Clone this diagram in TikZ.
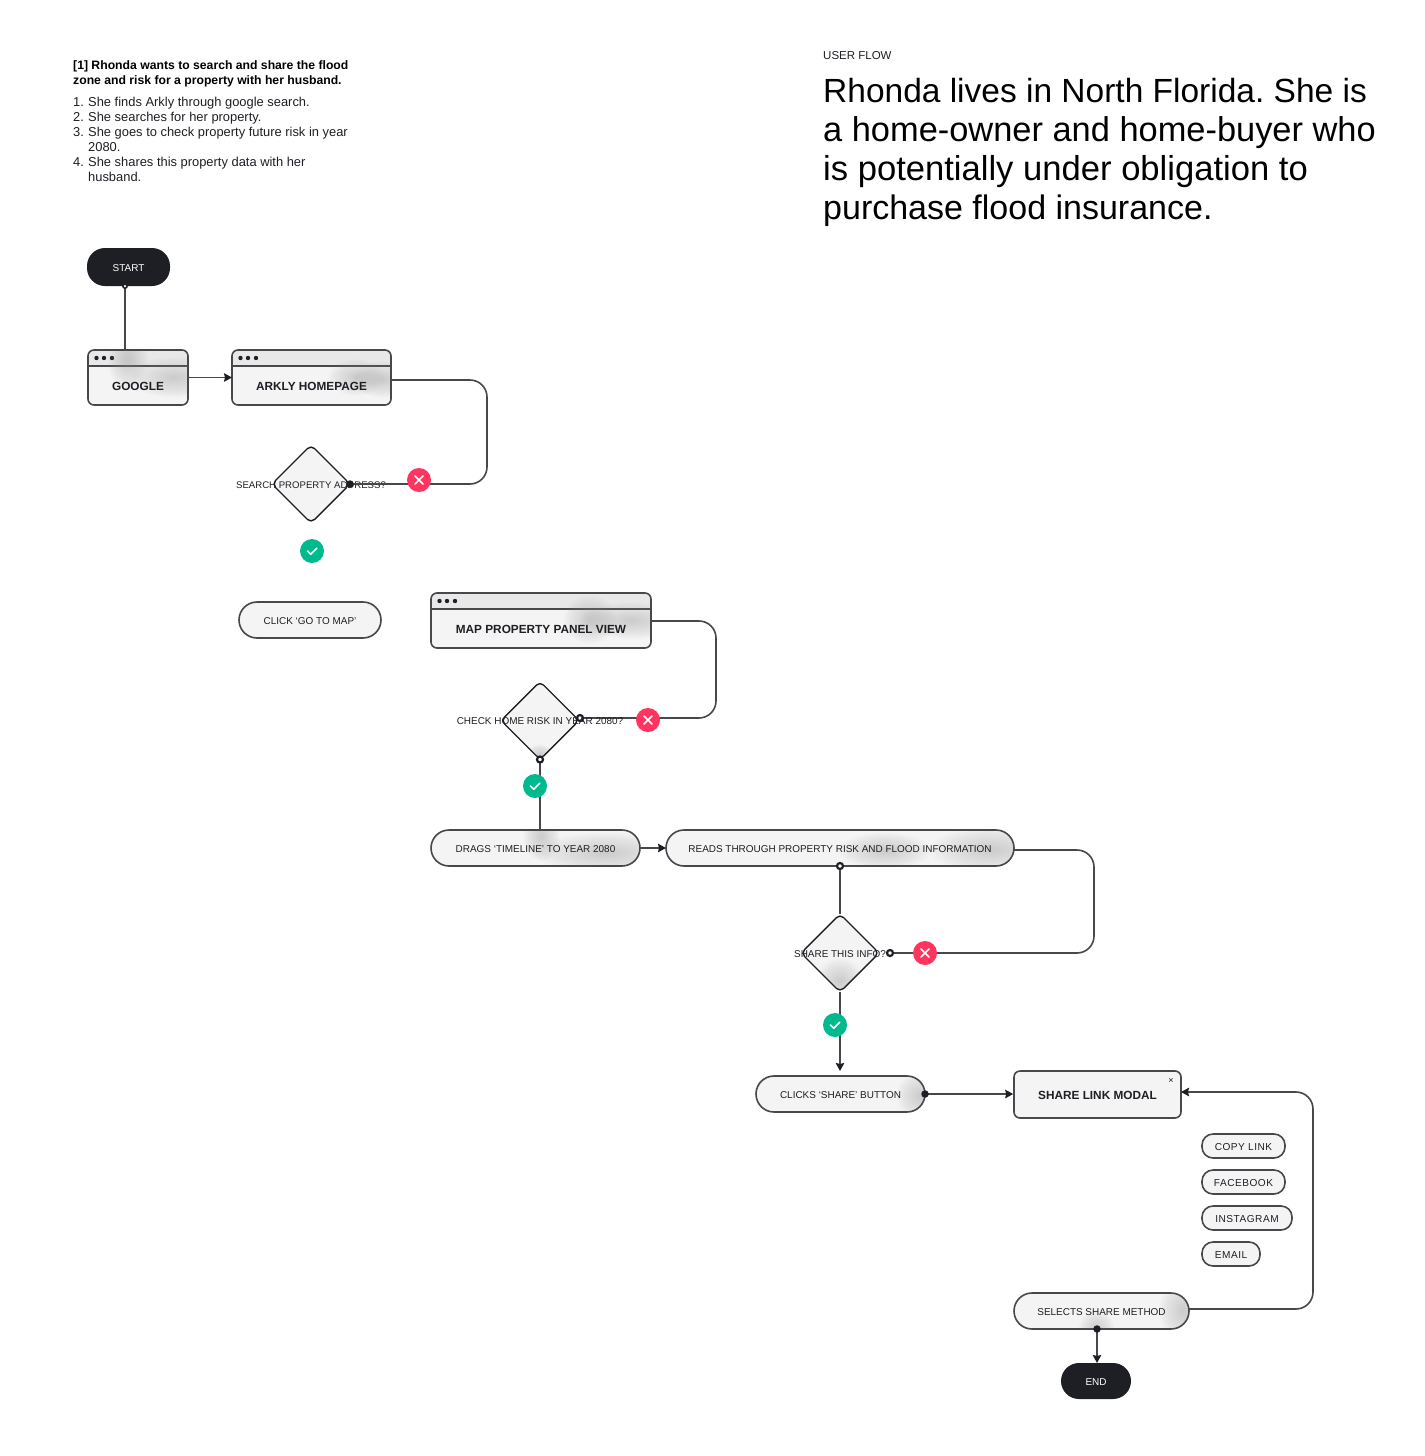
\documentclass[tikz,border=0pt]{standalone}
\usepackage{fontspec}
\setmainfont{Liberation Sans}
\usetikzlibrary{arrows.meta,shapes.geometric}
\definecolor{linegray}{HTML}{47474C}
\definecolor{inkdark}{HTML}{1E1F24}
\definecolor{boxfill}{HTML}{F4F4F4}
\definecolor{headfill}{HTML}{E8E8E8}
\definecolor{smudgegray}{HTML}{9A9A9A}
\definecolor{nored}{HTML}{FF3560}
\definecolor{yesgreen}{HTML}{00B98D}
\newcommand{\smudge}[4]{\foreach \blobk in {1,...,12}{\fill[smudgegray,opacity=0.04] ([shift={(#1pt,-#2pt)}]path picture bounding box.center) ellipse ({#3*\blobk/12} and {#4*\blobk/12});}}
\newcommand{\listnum}[1]{\makebox[15pt][l]{#1}}
\newcommand{\sized}[1]{\fontsize{#1}{39}\selectfont}
\tikzset{
  flowline/.style={draw=linegray,line width=1.6pt},
  arrowline/.style={flowline,-{Stealth[length=8pt,width=8.5pt,inset=1pt,color=inkdark]}},
  roundline/.style={flowline,rounded corners=17pt},
  smalltext/.style={font=\fontsize{9.95}{12}\selectfont,text=inkdark,inner sep=0pt,text height=9.2pt,text depth=0pt},
  boldtext/.style={font=\fontsize{11.8}{14}\selectfont\bfseries,text=inkdark,inner sep=0pt,text height=10.4pt,text depth=0pt},
  terminal/.style={rectangle,rounded corners=18pt,fill=inkdark,text=white,font=\fontsize{9.95}{12}\selectfont,inner sep=0pt,outer sep=0pt,text height=9.2pt,text depth=0pt},
  pill/.style={rectangle,rounded corners=18pt,draw=linegray,line width=1.6pt,fill=boxfill,smalltext,outer sep=0pt},
  chip/.style={rectangle,rounded corners=11pt,draw=linegray,line width=1.6pt,fill=boxfill,outer sep=0pt,inner sep=0pt,minimum height=24pt,
    font=\fontsize{10.1}{12}\selectfont\addfontfeature{LetterSpace=5},text=inkdark,text height=9.2pt,text depth=0pt},
  browser/.style={rectangle,rounded corners=6pt,draw=linegray,line width=1.6pt,fill=boxfill,outer sep=0pt,inner sep=0pt,minimum height=55pt,
    path picture={
      \fill[headfill] (path picture bounding box.north west) rectangle ([yshift=-16pt]path picture bounding box.north east);
      \draw[linegray,line width=1.6pt] ([yshift=-16pt]path picture bounding box.north west) -- ([yshift=-16pt]path picture bounding box.north east);
      \foreach \dotx in {8.5,16,24}{\fill[inkdark] ([shift={(\dotx pt,-8pt)}]path picture bounding box.north west) circle (2.2pt);}
      #1
    }},
  decision/.style={diamond,rounded corners=5pt,draw=inkdark,line width=1.4pt,fill=boxfill,minimum width=78pt,minimum height=78pt,inner sep=0pt,outer sep=0pt},
  port/.style={circle,draw=inkdark,line width=2.2pt,fill=white,minimum size=6pt,inner sep=0pt},
  solidport/.style={circle,fill=inkdark,minimum size=7.5pt,inner sep=0pt},
  nobadge/.style={circle,fill=nored,minimum size=24pt,inner sep=0pt,
    path picture={\draw[white,line width=1.6pt,line cap=round] ([shift={(-4pt,-4pt)}]path picture bounding box.center) -- ++(8pt,8pt) ([shift={(-4pt,4pt)}]path picture bounding box.center) -- ++(8pt,-8pt);}},
  yesbadge/.style={circle,fill=yesgreen,minimum size=24pt,inner sep=0pt,
    path picture={\draw[white,line width=1.6pt,line cap=round,line join=round] ([shift={(-4.5pt,0pt)}]path picture bounding box.center) -- ++(3.2pt,-3.2pt) -- ++(6pt,6pt);}},
}
\begin{document}
\frenchspacing
\begin{tikzpicture}[x=1pt,y=-1pt]
\useasboundingbox (0,0) rectangle (1424,1456);
% intro texts
\node[anchor=north west,inner sep=0pt,align=left,text=black,font=\fontsize{12.2}{15}\selectfont\bfseries] (brieftitle) at (73,60){[1] Rhonda wants to search and share the flood\\zone and risk for a property with her husband.};
\node[anchor=north west,inner sep=0pt,align=left,text=inkdark,font=\fontsize{12.9}{15}\selectfont] (brieflist) at (73,97){\listnum{1.}She finds Arkly through google search.\\\listnum{2.}She searches for her property.\\\listnum{3.}She goes to check property future risk in year\\\listnum{}2080.\\\listnum{4.}She shares this property data with her\\\listnum{}husband.};
\node[anchor=west,inner sep=0pt,text=inkdark,font=\fontsize{11.5}{14}\selectfont] (flowtag) at (823,55.5){USER FLOW};
\node[anchor=north west,inner sep=0pt,align=left,text=black,font=\sized{34.4}] (persona) at (823,78){{\sized{33.5}Rhonda lives in North Florida. She is}\\a home-owner and home-buyer who\\{\sized{34.6}is potentially under obligation to}\\{\sized{34}purchase flood insurance.}};
% first row
\node[terminal,minimum width=83pt,minimum height=38pt] (start) at (128.5,267){START};
\node[browser={\smudge{-10}{-17}{20}{28}\smudge{36}{0}{44}{20}},minimum width=100pt] (google) at (138,377.5){};
\node[browser={\smudge{45}{0}{28}{18}\smudge{72}{2}{30}{18}},minimum width=159pt] (arkly) at (311.5,377.5){};
\node[boldtext] (googlelabel) at (138,385.5){GOOGLE};
\node[boldtext] (arklylabel) at (311.5,385.5){ARKLY HOMEPAGE};
\node[decision] (searchq) at (311,484){};
\node[smalltext,font=\fontsize{9.6}{12}\selectfont] (searchlabel) at (311,484){SEARCH PROPERTY ADDRESS?};
\node[pill,minimum width=142pt,minimum height=36pt] (clickmap) at (310,620){CLICK ‘GO TO MAP’};
% second row
\node[browser={\smudge{49}{-1}{26}{24}\smudge{90}{0}{50}{18}},minimum width=220pt] (mapview) at (541,620.5){};
\node[boldtext] (maplabel) at (541,628.5){MAP PROPERTY PANEL VIEW};
\node[decision,path picture={\smudge{0}{34}{14}{10}}] (riskq) at (540,720.5){};
\node[pill,path picture={\smudge{6}{-11}{18}{24}\smudge{70}{5}{70}{20}},minimum width=209pt,minimum height=36pt] (dragtime) at (535.5,848){DRAGS ‘TIMELINE’ TO YEAR 2080};
\node[pill,path picture={\smudge{45}{3}{46}{18}\smudge{150}{2}{60}{22}},minimum width=348pt,minimum height=36pt] (readinfo) at (840,848){READS THROUGH PROPERTY RISK AND FLOOD INFORMATION};
\node[decision,path picture={\smudge{0}{28}{24}{22}}] (shareq) at (840,953){};
\node[smalltext] (sharelabel) at (840,953){SHARE THIS INFO?};
\node[pill,path picture={\smudge{80}{2}{24}{24}},minimum width=169pt,minimum height=36pt] (clickshare) at (840.5,1094){CLICKS ‘SHARE’ BUTTON};
\node[rectangle,rounded corners=6pt,draw=linegray,line width=1.6pt,fill=boxfill,boldtext,minimum width=167pt,minimum height=47pt] (modal) at (1097.5,1094.5){SHARE LINK MODAL};
\node[text=inkdark,inner sep=0pt,font=\fontsize{9}{10}\selectfont] (modalclose) at (1171,1081){×};
\node[chip,minimum width=83pt] (copylink) at (1243.5,1146){COPY LINK};
\node[chip,minimum width=83pt] (facebook) at (1243.5,1182){FACEBOOK};
\node[chip,minimum width=90pt] (instagram) at (1247,1218){INSTAGRAM};
\node[chip,minimum width=58pt] (email) at (1231,1254){EMAIL};
\node[pill,path picture={\smudge{82}{0}{24}{30}\smudge{-5}{18}{18}{18}},minimum width=175pt,minimum height=36pt] (selectshare) at (1101.5,1311){SELECTS SHARE METHOD};
\node[terminal,minimum width=70pt,minimum height=36pt] (end) at (1096,1381){END};
% bends and free ends
\coordinate (startout) at (125,286);
\coordinate (arklybend) at (487,380);
\coordinate (mapbend) at (716,621);
\coordinate (riskout) at (580,718);
\coordinate (readbend) at (1094,850);
\coordinate (shareout) at (890,953);
\coordinate (shareend) at (840,1071);
\coordinate (selectbend) at (1313,1309);
\coordinate (modalin) at (1181,1092);
\coordinate (endin) at (1097,1363);
% connectors
\draw[flowline] (startout) -- (startout |- google.north);
\draw[arrowline] (google.east) -- (arkly.west);
\draw[roundline] (arkly.east |- arklybend) -- (arklybend) -- (arklybend |- searchq) -- (searchq.east);
\draw[roundline] (mapview.east |- mapbend) -- (mapbend) -- (mapbend |- riskout) -- (riskout);
\draw[flowline] (riskq.south) -- (riskq.south |- dragtime.north);
\draw[arrowline] (dragtime.east) -- (readinfo.west);
\draw[roundline] (readinfo.east |- readbend) -- (readbend) -- (readbend |- shareout) -- (shareout);
\draw[flowline] (readinfo.south) -- (shareq.north);
\draw[arrowline] (shareq.south) -- (shareend);
\draw[arrowline] (clickshare.east) -- (clickshare.east -| modal.west);
\draw[arrowline,rounded corners=17pt] (selectshare.east |- selectbend) -- (selectbend) -- (selectbend |- modalin) -- (modalin);
\draw[arrowline] (endin |- selectshare.south) -- (endin);
% ports and badges
\node[solidport,minimum size=6pt] (startdot) at (startout){};
\node[circle,fill=white,minimum size=2.5pt,inner sep=0pt] (startport) at (startout){};
\node[solidport] (searchport) at (searchq.east){};
\node[port] (riskport) at (riskout){};
\node[port] (riskdown) at (riskq.south){};
\node[port] (readport) at (readinfo.south){};
\node[port] (shareport) at (shareout){};
\node[solidport] (clickport) at (clickshare.east){};
\node[solidport] (selectport) at (endin |- selectshare.south){};
\node[smalltext] (risklabel) at (540,719.5){CHECK HOME RISK IN YEAR 2080?};
\node[nobadge] (searchno) at (419,480){};
\node[yesbadge] (searchyes) at (312,551){};
\node[nobadge] (riskno) at (648,720){};
\node[yesbadge] (riskyes) at (535,786){};
\node[nobadge] (shareno) at (925,953){};
\node[yesbadge] (shareyes) at (835,1025){};
\end{tikzpicture}
\end{document}
